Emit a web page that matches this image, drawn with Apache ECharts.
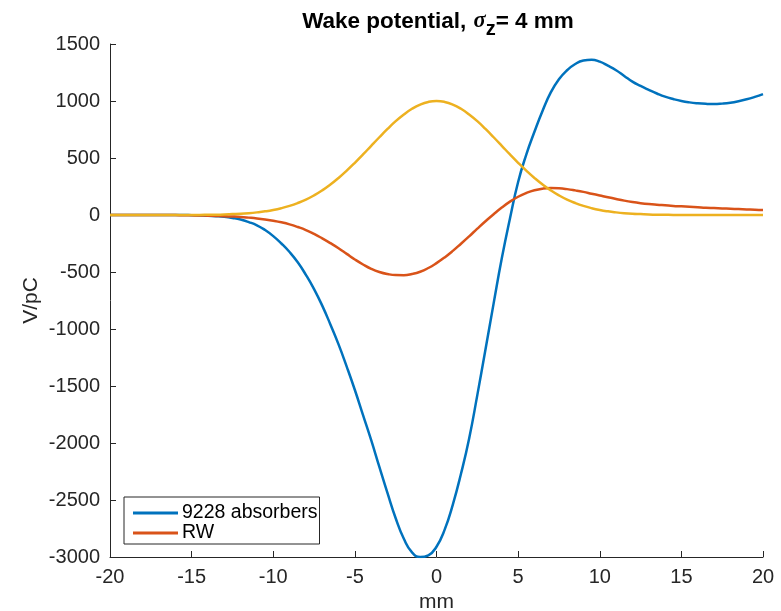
<!DOCTYPE html>
<html>
<head>
<meta charset="utf-8">
<script src="https://cdn.jsdelivr.net/npm/echarts@6/dist/echarts.min.js"></script>
<style>html,body{margin:0;padding:0;background:#fff}#c{width:781px;height:611px}</style>
</head>
<body>
<div id="c"></div>
<script>
var xs = [-20,-19.5,-19,-18.5,-18,-17.5,-17,-16.5,-16,-15.5,
  -15,-14.5,-14,-13.5,-13,-12.5,-12,-11.5,-11,-10.5,
  -10,-9.5,-9,-8.5,-8,-7.5,-7,-6.5,-6,-5.5,
  -5,-4.5,-4,-3.5,-3,-2.5,-2,-1.5,-1,-0.5,
  0,0.5,1,1.5,2,2.5,3,3.5,4,4.5,
  5,5.5,6,6.5,7,7.5,8,8.5,9,9.5,
  10,10.5,11,11.5,12,12.5,13,13.5,14,14.5,
  15,15.5,16,16.5,17,17.5,18,18.5,19,19.5,
  20];
var absY = [0,0,0,0,0,0,0,0,0,0,
  -2,-4,-6,-10,-16,-26,-40,-62,-90,-132,
  -185,-250,-325,-415,-525,-650,-795,-960,-1135,-1330,
  -1535,-1755,-1975,-2210,-2440,-2660,-2840,-2960,-3000,-2985,
  -2910,-2760,-2540,-2270,-1960,-1580,-1180,-775,-380,-30,
  290,530,730,915,1075,1190,1270,1325,1355,1362,
  1345,1310,1270,1220,1170,1132,1098,1066,1038,1017,
  1000,988,980,975,973,977,985,998,1015,1036,
  1060];
var rwY = [0,0,0,0,0,0,0,0,-1,-2,
  -3,-4,-6,-8,-10,-13,-17,-23,-30,-39,
  -50,-64,-82,-105,-132,-166,-205,-247,-292,-341,
  -390,-434,-472,-500,-518,-527,-528,-518,-498,-465,
  -422,-372,-315,-252,-187,-120,-55,7,65,117,
  160,193,217,231,236,234,227,216,203,187,
  171,155,140,126,114,104,96,90,85,80,
  76,72,68,64,61,58,55,52,49,46,
  44];
var bunchY = [0,0,0,0,0,0,0,0,0,1,
  1,1,2,3,5,8,11,16,23,32,
  44,60,80,105,135,172,216,267,325,389,
  458,531,607,682,755,823,882,932,969,992,
  1000,992,969,932,882,823,755,682,607,531,
  458,389,325,267,216,172,135,105,80,60,
  44,32,23,16,11,8,5,3,2,1,
  1,1,0,0,0,0,0,0,0,0,
  0];
var xTicks = [-20,-15,-10,-5,0,5,10,15,20];
var yTicks = [-3000,-2500,-2000,-1500,-1000,-500,0,500,1000,1500];
var seriesNames = ['9228 absorbers','RW','bunch'];

function pairs(x, y){ return x.map(function(v,i){return [v, y[i]];}); }

var axisCol = '#262626';
var font = 'Liberation Sans, Arial, Helvetica, sans-serif';
var chart = echarts.init(document.getElementById('c'));
var lineCommon = {type: 'line', smooth: 0.5, showSymbol: false, symbol: 'none'};
function mk(i, ys, col, z){
  return Object.assign({}, lineCommon, {name: seriesNames[i], data: pairs(xs, ys), lineStyle: {color: col, width: 2.5}, itemStyle: {color: col}, z: z});
}
chart.setOption({
  animation: false,
  backgroundColor: '#fff',
  textStyle: {fontFamily: font},
  title: {
    text: '{a|Wake potential, }{s|σ}{z|z}{a|= 4 mm}',
    left: 433, top: -1, textAlign: 'center',
    textStyle: {
      rich: {
        a: {fontSize: 22.5, fontWeight: 'bold', color: '#000', fontFamily: font},
        s: {fontSize: 22.5, fontStyle: 'italic', color: '#000', fontFamily: 'Liberation Serif, Times New Roman, serif', padding:[0,0,0,1]},
        z: {fontSize: 20, fontWeight: 'bold', color: '#000', fontFamily: font, padding:[15,0,0,0]}
      }
    }
  },
  grid: {left: 110, right: 18, top: 44, bottom: 54, containLabel: false, outerBoundsMode: 'none'},
  legend: {
    data: ['9228 absorbers','RW'],
    orient: 'vertical', left: 124, top: 497,
    itemWidth: 45, itemHeight: 3, itemGap: 0,
    padding: [6, 2, 1, 9],
    borderColor: '#262626', borderWidth: 1, backgroundColor: '#fff',
    icon: 'rect',
    textStyle: {fontSize: 19.5, color: '#000', fontFamily: font, padding:[0,0,0,-1], width: 138}
  },
  xAxis: {
    type: 'value', min: -20, max: 20, interval: 5,
    name: 'mm', nameLocation: 'middle', nameGap: 30,
    nameTextStyle: {fontSize: 21, color: '#262626'},
    axisLine: {onZero: false, lineStyle: {color: axisCol, width: 1}},
    axisTick: {inside: true, length: 6, lineStyle: {color: axisCol}},
    axisLabel: {fontSize: 20, color: '#262626', margin: 10,
      formatter: function(v){ return xTicks.indexOf(v) >= 0 ? String(v) : ''; }},
    splitLine: {show: false}
  },
  yAxis: {
    type: 'value', min: -3000, max: 1500, interval: 500,
    name: 'V/pC', nameLocation: 'middle', nameGap: 68, nameRotate: 90, nameMoveOverlap: false,
    nameTextStyle: {fontSize: 21, color: '#262626'},
    axisLine: {show: true, onZero: false, lineStyle: {color: axisCol, width: 1}},
    axisTick: {show: true, inside: true, length: 6, lineStyle: {color: axisCol}},
    axisLabel: {fontSize: 20, color: '#262626', margin: 10,
      formatter: function(v){ return yTicks.indexOf(v) >= 0 ? String(v) : ''; }},
    splitLine: {show: false}
  },
  series: [
    mk(0, absY, '#0072BD', 3),
    mk(1, rwY, '#D95319', 4),
    mk(2, bunchY, '#EDB120', 5)
  ]
});
</script>
</body>
</html>
